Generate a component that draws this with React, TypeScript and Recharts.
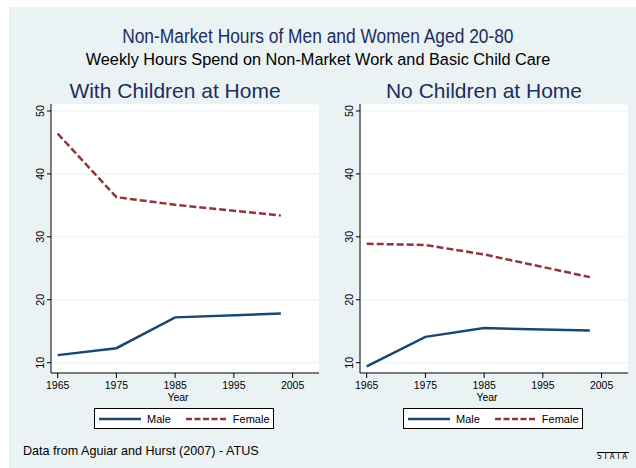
import React from "react";
import { LineChart, Line, XAxis, YAxis, CartesianGrid } from "recharts";

const years = [1965, 1975, 1985, 2003];
const withKidsMale = [11.2, 12.3, 17.2, 17.8];
const withKidsFemale = [46.4, 36.3, 35.1, 33.4];
const noKidsMale = [9.4, 14.1, 15.5, 15.1];
const noKidsFemale = [28.9, 28.7, 27.2, 23.6];
const xTicks = [1965, 1975, 1985, 1995, 2005];
const yTicks = [10, 20, 30, 40, 50];

const FONT = "'Liberation Sans', Arial, Helvetica, sans-serif";
const NAVY = "#1A476F";
const MAROON = "#90353B";
const TITLE = "#1C2D5E";
const BG = "#EAF2F3";

const YTick = ({ x, y, payload }: any) => (
  <text
    x={x}
    y={y}
    transform={`rotate(-90, ${x}, ${y})`}
    textAnchor="middle"
    dominantBaseline="central"
    fontSize={10.8}
    fill="#000"
    fontFamily={FONT}
  >
    {payload.value}
  </text>
);

const XTick = ({ x, y, payload }: any) => (
  <text
    x={x}
    y={y}
    dy="0.71em"
    textAnchor="middle"
    fontSize={10.5}
    fill="#000"
    fontFamily={FONT}
  >
    {payload.value}
  </text>
);

// axis title sits a little left of the plot centre, as in the original
const YearLabel = ({ viewBox }: any) => (
  <text
    x={viewBox.x + viewBox.width / 2 - 7}
    y={viewBox.y + viewBox.height - 2}
    textAnchor="middle"
    fontSize={10.5}
    fill="#000"
    fontFamily={FONT}
  >
    Year
  </text>
);

function Panel({
  left,
  title,
  male,
  female,
}: {
  left: number;
  title: string;
  male: number[];
  female: number[];
}) {
  const data = years.map((year, i) => ({ year, male: male[i], female: female[i] }));
  return (
    <div style={{ position: "absolute", left, top: 0, width: 330, height: 468 }}>
      <div
        style={{
          position: "absolute",
          left: 175 - 150,
          width: 300,
          top: 80,
          textAlign: "center",
          fontSize: 21,
          lineHeight: "21px",
          color: TITLE,
          whiteSpace: "nowrap",
        }}
      >
        {title}
      </div>
      <div style={{ position: "absolute", left: 0, top: 0 }}>
        <LineChart
          width={330}
          height={403}
          data={data}
          margin={{ top: 104, right: 11, bottom: 0, left: 0 }}
        >
          <CartesianGrid vertical={false} stroke={BG} fill="#fff" />
          <XAxis
            dataKey="year"
            type="number"
            domain={[1963.86, 2009.5]}
            ticks={xTicks}
            allowDataOverflow
            height={30}
            tickSize={5}
            tickMargin={4}
            stroke="#000"
            tick={<XTick />}
            label={{ content: YearLabel }}
          />
          <YAxis
            type="number"
            domain={[8.36, 51.11]}
            ticks={yTicks}
            allowDataOverflow
            width={51}
            tickSize={4}
            tickMargin={7}
            stroke="#000"
            tick={<YTick />}
          />
          <Line
            dataKey="male"
            type="linear"
            stroke={NAVY}
            strokeWidth={2.5}
            dot={false}
            isAnimationActive={false}
          />
          <Line
            dataKey="female"
            type="linear"
            stroke={MAROON}
            strokeWidth={2.5}
            strokeDasharray="7 3"
            dot={false}
            isAnimationActive={false}
          />
        </LineChart>
      </div>
      <div
        style={{
          position: "absolute",
          left: 94,
          top: 408,
          width: 178,
          height: 19,
          border: "1px solid #000",
          background: "#fff",
          fontSize: 11,
          display: "flex",
          alignItems: "center",
        }}
      >
        <svg width={42} height={10} style={{ marginLeft: 4 }}>
          <line x1={0} y1={5} x2={42} y2={5} stroke={NAVY} strokeWidth={2.5} />
        </svg>
        <span style={{ marginLeft: 6 }}>Male</span>
        <svg width={42} height={10} style={{ marginLeft: 15 }}>
          <line
            x1={0}
            y1={5}
            x2={42}
            y2={5}
            stroke={MAROON}
            strokeWidth={2.5}
            strokeDasharray="6 2.5"
          />
        </svg>
        <span style={{ marginLeft: 5 }}>Female</span>
      </div>
    </div>
  );
}

export default function App() {
  return (
    <div
      style={{
        position: "absolute",
        left: 0,
        top: 0,
        width: 636,
        height: 468,
        background: "#fff",
        fontFamily: FONT,
        overflow: "hidden",
      }}
    >
      <div style={{ position: "absolute", left: 9, top: 7, right: 0, bottom: 0, background: BG }} />
      <div
        style={{
          position: "absolute",
          left: 0,
          width: 636,
          top: 26,
          textAlign: "center",
          fontSize: 19.5,
          lineHeight: "20px",
          color: TITLE,
          whiteSpace: "nowrap",
        }}
      >
        <span style={{ display: "inline-block", transform: "scaleX(0.89)" }}>
          Non-Market Hours of Men and Women Aged 20-80
        </span>
      </div>
      <div
        style={{
          position: "absolute",
          left: 0,
          width: 636,
          top: 51,
          textAlign: "center",
          fontSize: 16.3,
          lineHeight: "16px",
          color: "#000",
          whiteSpace: "nowrap",
        }}
      >
        Weekly Hours Spend on Non-Market Work and Basic Child Care
      </div>
      <Panel left={0} title="With Children at Home" male={withKidsMale} female={withKidsFemale} />
      <Panel left={309} title="No Children at Home" male={noKidsMale} female={noKidsFemale} />
      <div
        style={{
          position: "absolute",
          left: 23,
          top: 445,
          fontSize: 12.6,
          lineHeight: "13px",
          color: "#000",
          whiteSpace: "nowrap",
        }}
      >
        Data from Aguiar and Hurst (2007) - ATUS
      </div>
      <div
        style={{
          position: "absolute",
          left: 597,
          top: 452,
          fontSize: 8,
          lineHeight: "8px",
          letterSpacing: 1.5,
          color: "#000",
          borderTop: "1px solid #000",
          fontFamily: "'DejaVu Sans Mono', monospace",
        }}
      >
        STATA
      </div>
    </div>
  );
}
